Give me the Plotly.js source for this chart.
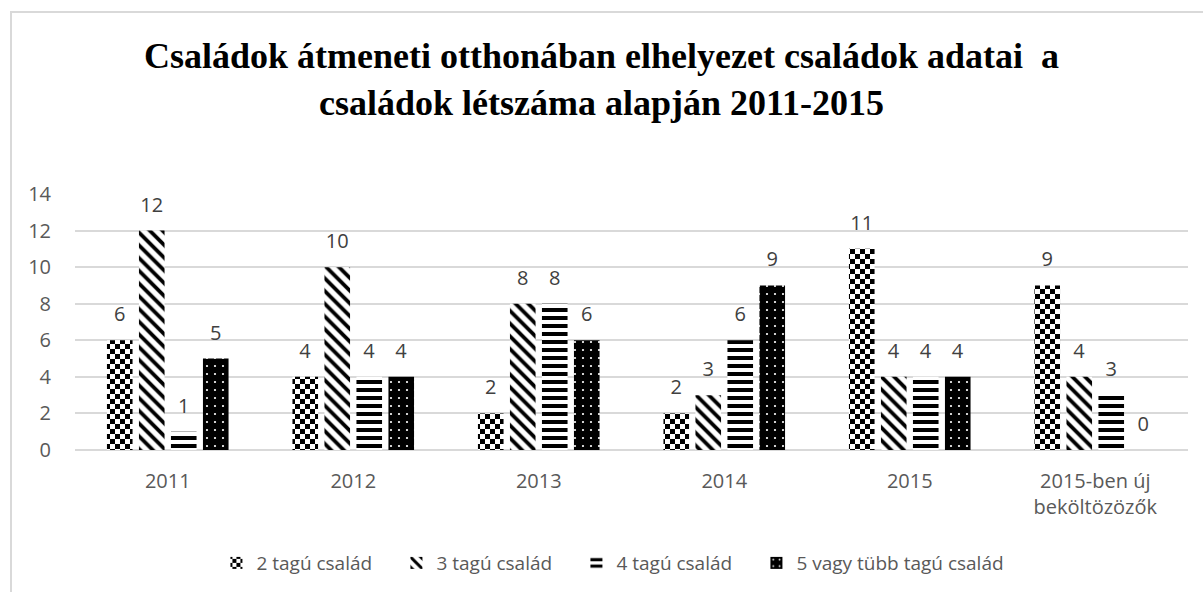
<!DOCTYPE html>
<html>
<head>
<meta charset="utf-8">
<script src="https://cdn.plot.ly/plotly-3.0.1.min.js"></script>
<style>
html,body{margin:0;padding:0;background:#fff;}
#wrap{position:relative;width:1203px;height:592px;overflow:hidden;}
#chart{position:absolute;left:0;top:0;width:1203px;height:592px;}
#frame{position:absolute;left:10px;top:11px;width:1300px;height:700px;border-left:2px solid #d9d9d9;border-top:2px solid #d9d9d9;pointer-events:none;}
</style>
</head>
<body>
<div id="wrap"><div id="chart"></div><div id="frame"></div></div>
<script>
const categories = ['2011', '2012', '2013', '2014', '2015', '2015-ben új<br>beköltözözők'];
const seriesNames = ['2 tagú család', '3 tagú család', '4 tagú család', '5 vagy tübb tagú család'];
const tag2 = [6, 4, 2, 2, 11, 9];
const tag3 = [12, 10, 8, 3, 4, 4];
const tag4 = [1, 4, 8, 6, 4, 3];
const tag5 = [5, 4, 6, 9, 4, 0];
const yTicks = [0, 2, 4, 6, 8, 10, 12, 14];

const patterns = [
  {shape: '.', fgcolor: '#010101', bgcolor: '#fefefe', size: 10, solidity: 0.3},
  {shape: '\\', fgcolor: '#000000', bgcolor: '#ffffff', size: 9, solidity: 0.42},
  {shape: '-', fgcolor: '#000000', bgcolor: '#ffffff', size: 8, solidity: 0.5},
  {shape: '.', fgcolor: '#ffffff', bgcolor: '#000000', size: 8, solidity: 0.06}
];
const allSeries = [tag2, tag3, tag4, tag5];
const SANS = '"Open Sans", "Noto Sans", sans-serif';

const traces = allSeries.map((vals, i) => ({
  type: 'bar',
  name: seriesNames[i],
  x: categories,
  y: vals,
  marker: {color: '#000000', line: {width: 0}, pattern: Object.assign({fillmode: 'replace'}, patterns[i])},
  texttemplate: '%{y}',
  textposition: 'outside',
  cliponaxis: false,
  textfont: {family: SANS, size: 20, color: '#404040'},
  hoverinfo: 'x+y+name'
}));

const layout = {
  width: 1203, height: 592,
  paper_bgcolor: '#ffffff', plot_bgcolor: '#ffffff',
  margin: {l: 75, r: 15, t: 194, b: 141},
  title: {
    text: 'Családok átmeneti otthonában elhelyezet családok adatai\u00a0\u00a0a<br>családok létszáma alapján 2011-2015',
    font: {family: '"Liberation Serif", "Times New Roman", serif', size: 36, color: '#000000', weight: 'bold'},
    x: 0.5, xanchor: 'center', xref: 'container',
    y: 0.885, yanchor: 'middle', yref: 'container'
  },
  barmode: 'group',
  bargap: 0.31,
  bargroupgap: 0.2,
  showlegend: true,
  legend: {
    orientation: 'h', x: 0.464, xanchor: 'center', y: -0.436, yanchor: 'middle',
    font: {family: SANS, size: 19, color: '#595959'},
    traceorder: 'normal', itemwidth: 30, indentation: -15,
    entrywidth: 150, entrywidthmode: 'pixels'
  },
  xaxis: {
    type: 'category',
    tickfont: {family: SANS, size: 20, color: '#595959'},
    ticklabelstandoff: 17,
    showline: false, ticks: '', showgrid: false, zeroline: false,
    fixedrange: true
  },
  yaxis: {
    range: [0, 14],
    tickvals: yTicks,
    ticktext: yTicks.map(String),
    tickfont: {family: SANS, size: 20, color: '#595959'},
    ticklabelstandoff: 23,
    showgrid: true, gridcolor: '#d9d9d9', gridwidth: 2,
    zeroline: true, zerolinecolor: '#d9d9d9', zerolinewidth: 2,
    showline: false, ticks: '', ticklen: 0,
    fixedrange: true
  },
  font: {family: SANS, color: '#595959'}
};

function postProcess() {
  const ns = 'http://www.w3.org/2000/svg';
  // checkerboard pattern for the first series
  document.querySelectorAll('pattern').forEach(p => {
    const c = p.querySelector('circle');
    if (!c) return;
    const f = (c.getAttribute('fill') || c.style.fill || '').toLowerCase().replace(/\s/g, '');
    if (f === '#010101' || f === 'rgb(1,1,1)') {
      const w = parseFloat(p.getAttribute('width')) || 10;
      const h = parseFloat(p.getAttribute('height')) || 10;
      while (p.firstChild) p.removeChild(p.firstChild);
      const mk = (x, y, ww, hh, col) => {
        const r = document.createElementNS(ns, 'rect');
        r.setAttribute('x', x); r.setAttribute('y', y);
        r.setAttribute('width', ww); r.setAttribute('height', hh);
        r.setAttribute('fill', col);
        p.appendChild(r);
      };
      mk(0, 0, w, h, '#ffffff');
      mk(0, 0, w / 2, h / 2, '#000000');
      mk(w / 2, h / 2, w / 2, h / 2, '#000000');
    }
  });
  // lift the value labels a little, like the original
  document.querySelectorAll('.trace.bars text.bartext').forEach(t => {
    const g = document.createElementNS(ns, 'g');
    g.setAttribute('transform', 'translate(0,-10)');
    t.parentNode.insertBefore(g, t);
    g.appendChild(t);
  });
  // let the last legend entry show in full
  document.querySelectorAll('.legend .scrollbox, .legend').forEach(el => {
    el.removeAttribute('clip-path');
    el.style.clipPath = 'none';
  });
}

Plotly.newPlot('chart', traces, layout, {displayModeBar: false, staticPlot: true}).then(postProcess);
</script>
</body>
</html>
